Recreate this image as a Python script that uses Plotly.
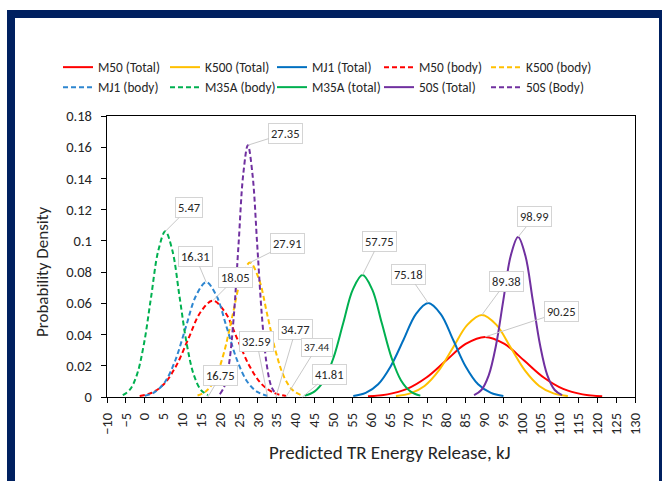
import plotly.graph_objects as go

# ---------------- data ----------------
m50_total_x = [59.2, 64.4, 69.55, 74.7, 79.9, 85.1, 90.25, 95.4, 100.6, 105.8, 110.95, 116.1, 121.3]
m50_total_y = [0.00043, 0.00169, 0.00521, 0.0125, 0.02335, 0.03398, 0.0385, 0.03398, 0.02335, 0.0125, 0.00521, 0.00169, 0.00043]

k500_total_x = [66.6, 70.4, 74.2, 78.0, 81.8, 85.6, 89.38, 93.2, 97.0, 100.8, 104.6, 108.4, 112.2]
k500_total_y = [0.00058, 0.0023, 0.0071, 0.01705, 0.03184, 0.04633, 0.0525, 0.04633, 0.03184, 0.01705, 0.0071, 0.0023, 0.00058]

mj1_total_x = [55.3, 58.6, 61.9, 65.2, 68.6, 71.9, 75.18, 78.5, 81.8, 85.1, 88.4, 91.8, 95.1]
mj1_total_y = [0.00067, 0.00264, 0.00815, 0.01955, 0.03651, 0.05313, 0.0602, 0.05313, 0.03651, 0.01955, 0.00815, 0.00264, 0.00067]

m50_body_x = [-1.33, 1.9, 5.13, 8.36, 11.59, 14.82, 18.05, 21.28, 24.51, 27.74, 30.97, 34.2, 37.44]
m50_body_y = [0.00068, 0.00271, 0.00835, 0.02003, 0.03742, 0.05445, 0.0617, 0.05445, 0.03742, 0.02003, 0.00835, 0.00271, 0.00068]

k500_body_x = [14.01, 16.33, 18.64, 20.96, 23.28, 25.59, 27.91, 30.23, 32.54, 34.86, 37.18, 39.49, 41.81]
k500_body_y = [0.00096, 0.00378, 0.01165, 0.02796, 0.05222, 0.07598, 0.0861, 0.07598, 0.05222, 0.02796, 0.01165, 0.00378, 0.00096]

mj1_body_x = [0.03, 2.74, 5.46, 8.17, 10.88, 13.6, 16.31, 19.02, 21.74, 24.45, 27.16, 29.88, 32.59]
mj1_body_y = [0.00082, 0.00323, 0.00994, 0.02387, 0.04458, 0.06486, 0.0735, 0.06486, 0.04458, 0.02387, 0.00994, 0.00323, 0.00082]

m35a_body_x = [-5.81, -3.93, -2.05, -0.17, 1.71, 3.59, 5.47, 7.35, 9.23, 11.11, 12.99, 14.87, 16.75]
m35a_body_y = [0.00118, 0.00466, 0.01436, 0.03445, 0.06435, 0.09363, 0.1061, 0.09363, 0.06435, 0.03445, 0.01436, 0.00466, 0.00118]

m35a_total_x = [42.42, 44.98, 47.53, 50.09, 52.64, 55.2, 57.75, 60.31, 62.86, 65.42, 67.97, 70.53, 73.08]
m35a_total_y = [0.00087, 0.00343, 0.01057, 0.02536, 0.04737, 0.06892, 0.0781, 0.06892, 0.04737, 0.02536, 0.01057, 0.00343, 0.00087]

s50_total_x = [87.32, 89.27, 91.21, 93.16, 95.1, 97.05, 98.99, 100.94, 102.88, 104.83, 106.77, 108.72, 110.66]
s50_total_y = [0.00114, 0.0045, 0.01387, 0.03328, 0.06217, 0.09046, 0.1025, 0.09046, 0.06217, 0.03328, 0.01387, 0.0045, 0.00114]

s50_body_x = [19.93, 21.17, 22.4, 23.64, 24.88, 26.11, 27.35, 28.59, 29.82, 31.06, 32.29, 33.53, 34.77]
s50_body_y = [0.00179, 0.00708, 0.02182, 0.05237, 0.09783, 0.14235, 0.1613, 0.14235, 0.09783, 0.05237, 0.02182, 0.00708, 0.00179]

series_names = ["M50 (Total)", "K500 (Total)", "MJ1 (Total)", "M50 (body)", "K500 (body)",
                "MJ1 (body)", "M35A (body)", "M35A (total)", "50S (Total)", "50S (Body)"]

# labelled points: peaks (value = mean) and curve end points at y = 0
peak_labels = ["5.47", "16.31", "18.05", "27.35", "27.91", "57.75", "75.18", "89.38", "98.99", "90.25"]
end_labels = ["16.75", "32.59", "34.77", "37.44", "41.81"]

x_title = "Predicted TR Energy Release, kJ"
y_title = "Probability Density"

# ---------------- styling ----------------
FONT = "Carlito, Calibri, Lato, sans-serif"
TXT = "#262626"
DASH = "5px,3px"

series = [
    (series_names[0], m50_total_x, m50_total_y, "#FF0000", "solid", "legend"),
    (series_names[1], k500_total_x, k500_total_y, "#FFC000", "solid", "legend"),
    (series_names[2], mj1_total_x, mj1_total_y, "#0070C0", "solid", "legend"),
    (series_names[3], m50_body_x, m50_body_y, "#FF0000", DASH, "legend"),
    (series_names[4], k500_body_x, k500_body_y, "#FFC000", DASH, "legend"),
    (series_names[5], mj1_body_x, mj1_body_y, "#2E86D0", DASH, "legend2"),
    (series_names[6], m35a_body_x, m35a_body_y, "#00B050", DASH, "legend2"),
    (series_names[7], m35a_total_x, m35a_total_y, "#00B050", "solid", "legend2"),
    (series_names[8], s50_total_x, s50_total_y, "#7030A0", "solid", "legend2"),
    (series_names[9], s50_body_x, s50_body_y, "#7030A0", DASH, "legend2"),
]

fig = go.Figure()
for name, xs, ys, color, dash, leg in series:
    fig.add_trace(go.Scatter(
        x=xs, y=ys, name=name, mode="lines", legend=leg,
        line=dict(color=color, width=2, dash=dash, shape="spline", smoothing=1),
    ))

peak_series = {"5.47": (m35a_body_x, m35a_body_y), "16.31": (mj1_body_x, mj1_body_y),
               "18.05": (m50_body_x, m50_body_y), "27.35": (s50_body_x, s50_body_y),
               "27.91": (k500_body_x, k500_body_y), "57.75": (m35a_total_x, m35a_total_y),
               "75.18": (mj1_total_x, mj1_total_y), "89.38": (k500_total_x, k500_total_y),
               "98.99": (s50_total_x, s50_total_y), "90.25": (m50_total_x, m50_total_y)}
peak_offsets = {"5.47": (24, -24), "16.31": (-11, -26), "18.05": (23, -23),
                "27.35": (38, -12), "27.91": (38, -19), "57.75": (17, -34),
                "75.18": (-20, -29), "89.38": (25, -34), "98.99": (16, -20),
                "90.25": (76, -25)}
end_offsets = {"16.75": (13, -22), "32.59": (-11, -56), "34.77": (20, -68),
               "37.44": (31, -50), "41.81": (27, -23)}

ann = []
for lab in peak_labels:
    xs, ys = peak_series[lab]
    i = ys.index(max(ys))
    ax, ay = peak_offsets[lab]
    ann.append(dict(x=xs[i], y=ys[i], text=lab, ax=ax, ay=ay, font=dict(size=12.5)))
for lab in end_labels:
    ax, ay = end_offsets[lab]
    ann.append(dict(x=float(lab), y=0, text=lab, ax=ax, ay=ay,
                    font=dict(size=11 if lab == "37.44" else 12.5)))
for a in ann:
    a.update(xref="x", yref="y", showarrow=True, arrowhead=0, arrowwidth=1,
             arrowcolor="#C8C8C8", bgcolor="white", bordercolor="#D4D4D4",
             borderwidth=1, borderpad=2)
    a["font"].update(family=FONT, color=TXT)

L, R, T, B = 107, 635, 116, 397
W, H = 662, 481
pw, ph = R - L, B - T

def px_x(p):
    return (p - L) / pw

def px_y(p):
    return (B - p) / ph

# axis titles (placed like the reference, slightly off-centre)
ann.append(dict(xref="paper", yref="paper", x=px_x(390), y=px_y(452), text=x_title,
                showarrow=False, xanchor="center", yanchor="middle",
                font=dict(family=FONT, size=19, color=TXT)))
ann.append(dict(xref="paper", yref="paper", x=px_x(42), y=px_y(272), text=y_title,
                showarrow=False, xanchor="center", yanchor="middle", textangle=-90,
                font=dict(family=FONT, size=17, color=TXT)))

shapes = [dict(type="rect", xref="paper", yref="paper",
               x0=px_x(11), x1=px_x(663), y0=px_y(495), y1=px_y(14),
               line=dict(color="#002060", width=8), fillcolor="rgba(0,0,0,0)",
               layer="above")]

axis_common = dict(showgrid=False, zeroline=False, showline=True, linecolor="black",
                   linewidth=1.3, mirror=True, ticks="outside", ticklen=5,
                   tickcolor="black", tickwidth=1.3, automargin=False,
                   tickfont=dict(family=FONT, size=14.5, color=TXT))

legend_common = dict(orientation="h", xref="paper", yref="paper",
                     xanchor="left", yanchor="top", entrywidth=62,
                     entrywidthmode="pixels", bgcolor="rgba(0,0,0,0)",
                     font=dict(family=FONT, size=13.3, color=TXT),
                     itemwidth=30, tracegroupgap=0)

fig.update_layout(
    width=W, height=H,
    margin=dict(l=L, r=W - R, t=T, b=H - B, pad=0, autoexpand=False),
    paper_bgcolor="white", plot_bgcolor="white",
    font=dict(family=FONT, color=TXT),
    showlegend=True,
    legend=dict(x=px_x(58), y=px_y(52), **legend_common),
    legend2=dict(x=px_x(58), y=px_y(72), **legend_common),
    xaxis=dict(range=[-10, 130], tickmode="linear", tick0=-10, dtick=5, tickangle=-90,
               ticklabelstandoff=4, **axis_common),
    yaxis=dict(range=[0, 0.18], tickmode="linear", tick0=0, dtick=0.02,
               ticklabelstandoff=6, **axis_common),
    annotations=ann,
    shapes=shapes,
)

fig.write_html("out.html")
